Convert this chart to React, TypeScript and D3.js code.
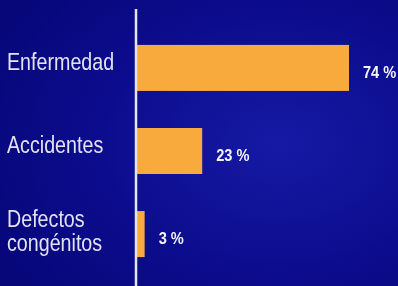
import { useEffect, useRef } from 'react';
import * as d3 from 'd3';

const categories = ['Enfermedad', 'Accidentes', 'Defectos\ncongénitos'];
const values = [74, 23, 3];
const valueLabels = ['74 %', '23 %', '3 %'];

export default function App() {
  const ref = useRef<SVGSVGElement>(null);

  useEffect(() => {
    const svgElement = ref.current;
    if (!svgElement) {
      return;
    }
    const width = 398;
    const height = 286;
    const axisX = 136;
    const narrow = 0.82; // no narrow font installed, squeeze Arial instead

    const svg = d3.select(svgElement);
    svg.selectAll('*').remove();
    svg.attr('viewBox', `0 0 ${width} ${height}`);

    const defs = svg.append('defs');
    const grad = defs
      .append('radialGradient')
      .attr('id', 'bg')
      .attr('cx', '0.7')
      .attr('cy', '0.5')
      .attr('r', '0.8');
    grad.append('stop').attr('offset', '0%').attr('stop-color', '#1619a4');
    grad.append('stop').attr('offset', '55%').attr('stop-color', '#0c0d8e');
    grad.append('stop').attr('offset', '100%').attr('stop-color', '#07077a');

    svg.append('rect').attr('width', width).attr('height', height).attr('fill', 'url(#bg)');

    // band step ~83px, bar ~46px tall
    const y = d3.scaleBand<string>().domain(categories).range([20, 282]).paddingInner(0.446).paddingOuter(0.3);
    const x = d3.scaleLinear().domain([0, 74]).range([axisX, 349]);

    const rows = categories.map((c, i) => ({ c, v: values[i], label: valueLabels[i] }));
    const mid = (c: string) => (y(c) ?? 0) + y.bandwidth() / 2;

    svg
      .append('g')
      .selectAll('rect')
      .data(rows)
      .join('rect')
      .attr('x', axisX)
      .attr('y', (d) => y(d.c) ?? 0)
      .attr('width', (d) => x(d.v) - axisX)
      .attr('height', y.bandwidth())
      .attr('fill', '#f8aa3c');

    svg
      .append('line')
      .attr('x1', axisX)
      .attr('x2', axisX)
      .attr('y1', 9)
      .attr('y2', height)
      .attr('stroke', '#e4e4f0')
      .attr('stroke-width', 2.5);

    svg
      .append('g')
      .attr('transform', `scale(0.86,1)`)
      .selectAll('text')
      .data(rows)
      .join('text')
      .attr('x', (d) => (x(d.v) + 14) / 0.86)
      .attr('y', (d) => mid(d.c) + 10)
      .attr('fill', '#f4f4ff')
      .attr('font-family', '"Liberation Sans", Arial, sans-serif')
      .attr('font-weight', 'bold')
      .attr('font-size', 17)
      .text((d) => d.label);

    const catText = svg
      .append('g')
      .attr('transform', `scale(${narrow},1)`)
      .selectAll('text')
      .data(rows)
      .join('text')
      .attr('y', (d) => {
        const lines = d.c.split('\n').length;
        return mid(d.c) + 2 - (lines - 1) * 9;
      })
      .attr('fill', '#e2e2f2')
      .attr('font-family', '"Liberation Sans", Arial, sans-serif')
      .attr('font-size', 24);

    catText
      .selectAll('tspan')
      .data((d) => d.c.split('\n'))
      .join('tspan')
      .attr('x', 7 / narrow)
      .attr('dy', (_d, i) => (i === 0 ? 0 : 24))
      .text((d) => d);
  }, []);

  return (
    <div style={{ position: 'fixed', left: 0, top: 0 }}>
      <svg ref={ref} width={398} height={286} style={{ display: 'block' }} />
    </div>
  );
}
